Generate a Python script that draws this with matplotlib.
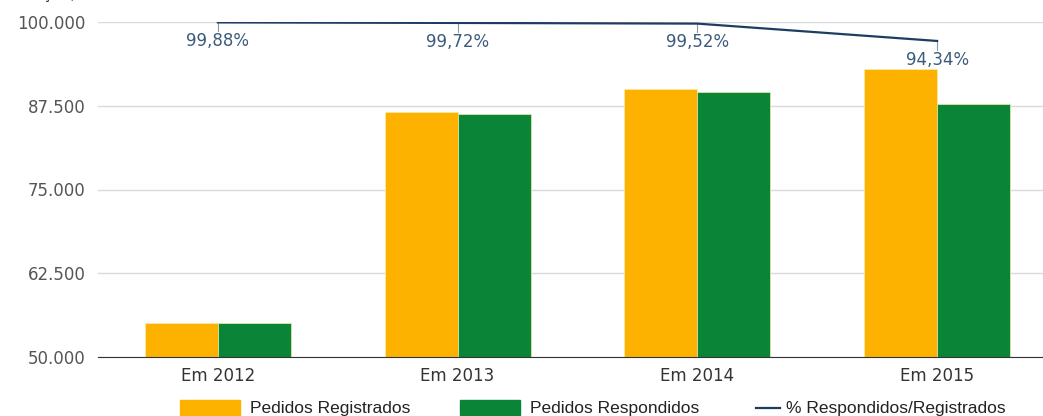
import matplotlib.pyplot as plt
import matplotlib.patches as mpatches
import matplotlib.lines as mlines
import numpy as np

plt.rcParams['font.family'] = ['DejaVu Sans']

anos = ["Em 2012", "Em 2013", "Em 2014", "Em 2015"]
registrados = [55100, 86550, 90000, 93000]
respondidos = [55030, 86310, 89570, 87740]
percentual = [99.88, 99.72, 99.52, 94.34]
rotulos_pct = ["99,88%", "99,72%", "99,52%", "94,34%"]
ticks_y = [50000, 62500, 75000, 87500, 100000]
rotulos_y = ["50.000", "62.500", "75.000", "87.500", "100.000"]
series = ["Pedidos Registrados", "Pedidos Respondidos", "% Respondidos/Registrados"]

laranja = "#FDB200"
verde = "#0A8538"
azul = "#1F3D63"
cinza = "#555555"

W, H = 1043, 416
fig = plt.figure(figsize=(W / 100, H / 100), dpi=100)
ax = fig.add_axes([98 / W, 59 / H, 959 / W, 335 / H])

x = np.arange(len(anos))
w = 0.305
ax.bar(x - w / 2, [r - 50000 for r in registrados], w, bottom=50000,
       color=laranja, edgecolor="#FCE9A0", linewidth=0.6, zorder=3)
ax.bar(x + w / 2, [r - 50000 for r in respondidos], w, bottom=50000,
       color=verde, edgecolor="#D8E8A0", linewidth=0.6, zorder=3)

ax.set_xlim(-0.5, len(anos) - 0.5)
ax.set_ylim(50000, 100000)
ax.set_yticks(ticks_y)
ax.set_yticklabels(rotulos_y, fontsize=12, color=cinza)
ax.set_xticks(x)
ax.set_xticklabels(anos, fontsize=12, color="#333333")
ax.tick_params(axis="both", length=0)
ax.tick_params(axis="x", pad=7)
ax.tick_params(axis="y", pad=9)
ax.grid(axis="y", color="#DADADA", linewidth=1, zorder=0)
for s in ["top", "right", "left"]:
    ax.spines[s].set_visible(False)
ax.spines["bottom"].set_color("#333333")
ax.spines["bottom"].set_zorder(4)

ax2 = ax.twinx()
ax2.set_ylim(0, 100)
ax2.axis("off")
ax2.plot(x, percentual, color=azul, linewidth=1.6, zorder=5)
for xi, p, t in zip(x, percentual, rotulos_pct):
    ax2.plot([xi, xi], [p, p - 2.6], color="#8899AA", linewidth=0.8)
    ax2.text(xi, p - 2.9, t, ha="center", va="top", fontsize=12,
             color="#3C5B7C")

# titulo cortado no topo da imagem
fig.text(0.0, 1 + 1.5 / H, "formação, em números absolutos", fontsize=12,
         color=azul, va="baseline", ha="left", family="Liberation Sans")

# legenda
yl = 8 / H
fig.patches.append(mpatches.Rectangle((180 / W, 1 / H), 60 / W, 15 / H,
                                      color=laranja, transform=fig.transFigure))
fig.patches.append(mpatches.Rectangle((460 / W, 1 / H), 60 / W, 15 / H,
                                      color=verde, transform=fig.transFigure))
fig.lines.append(mlines.Line2D([756 / W, 780 / W], [yl, yl], color=azul,
                               linewidth=1.6, transform=fig.transFigure))
for xt, nome in zip([250, 530, 786], series):
    fig.text(xt / W, yl, nome, fontsize=12.5, color="#222222", va="center",
             ha="left", family="Liberation Sans")

fig.savefig("out.png", dpi=100)
